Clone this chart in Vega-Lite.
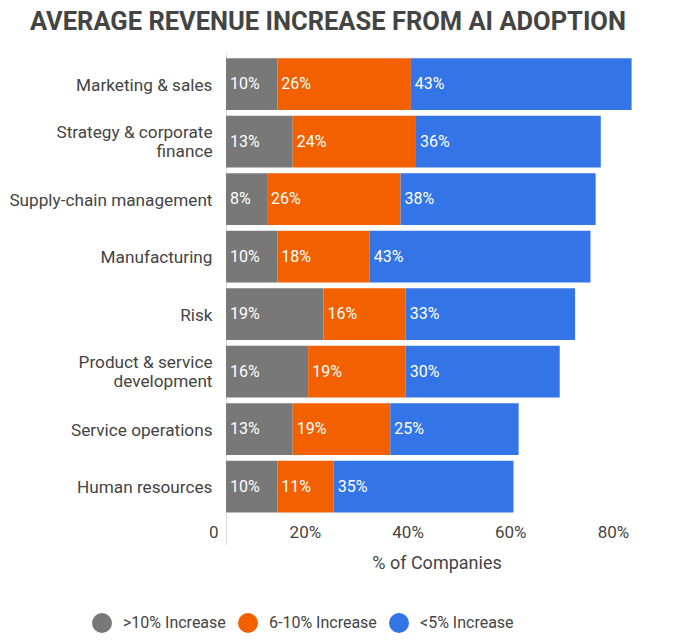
{
  "$schema": "https://vega.github.io/schema/vega-lite/v6.json",
  "width": 421,
  "height": 492,
  "padding": {"left": 8, "top": 9, "right": 5, "bottom": 5},
  "background": "white",
  "title": {
    "text": "AVERAGE REVENUE INCREASE FROM AI ADOPTION",
    "font": "Roboto",
    "fontSize": 25.5,
    "fontWeight": "bold",
    "color": "#444444",
    "anchor": "middle",
    "frame": "bounds",
    "offset": 18
  },
  "config": {
    "view": {"stroke": null},
    "font": "Roboto"
  },
  "data": {
    "values": [
      {"cat": "Marketing & sales", "series": ">10% Increase", "ord": 1, "v": 10},
      {"cat": "Marketing & sales", "series": "6-10% Increase", "ord": 2, "v": 26},
      {"cat": "Marketing & sales", "series": "<5% Increase", "ord": 3, "v": 43},
      {"cat": "Strategy & corporate finance", "series": ">10% Increase", "ord": 1, "v": 13},
      {"cat": "Strategy & corporate finance", "series": "6-10% Increase", "ord": 2, "v": 24},
      {"cat": "Strategy & corporate finance", "series": "<5% Increase", "ord": 3, "v": 36},
      {"cat": "Supply-chain management", "series": ">10% Increase", "ord": 1, "v": 8},
      {"cat": "Supply-chain management", "series": "6-10% Increase", "ord": 2, "v": 26},
      {"cat": "Supply-chain management", "series": "<5% Increase", "ord": 3, "v": 38},
      {"cat": "Manufacturing", "series": ">10% Increase", "ord": 1, "v": 10},
      {"cat": "Manufacturing", "series": "6-10% Increase", "ord": 2, "v": 18},
      {"cat": "Manufacturing", "series": "<5% Increase", "ord": 3, "v": 43},
      {"cat": "Risk", "series": ">10% Increase", "ord": 1, "v": 19},
      {"cat": "Risk", "series": "6-10% Increase", "ord": 2, "v": 16},
      {"cat": "Risk", "series": "<5% Increase", "ord": 3, "v": 33},
      {"cat": "Product & service development", "series": ">10% Increase", "ord": 1, "v": 16},
      {"cat": "Product & service development", "series": "6-10% Increase", "ord": 2, "v": 19},
      {"cat": "Product & service development", "series": "<5% Increase", "ord": 3, "v": 30},
      {"cat": "Service operations", "series": ">10% Increase", "ord": 1, "v": 13},
      {"cat": "Service operations", "series": "6-10% Increase", "ord": 2, "v": 19},
      {"cat": "Service operations", "series": "<5% Increase", "ord": 3, "v": 25},
      {"cat": "Human resources", "series": ">10% Increase", "ord": 1, "v": 10},
      {"cat": "Human resources", "series": "6-10% Increase", "ord": 2, "v": 11},
      {"cat": "Human resources", "series": "<5% Increase", "ord": 3, "v": 35}
    ]
  },
  "transform": [
    {"stack": "v", "groupby": ["cat"], "sort": [{"field": "ord"}], "as": ["v0", "v1"]},
    {"calculate": "datum.v + '%'", "as": "lbl"}
  ],
  "encoding": {
    "y": {
      "field": "cat",
      "type": "nominal",
      "sort": ["Marketing & sales", "Strategy & corporate finance", "Supply-chain management", "Manufacturing", "Risk", "Product & service development", "Service operations", "Human resources"],
      "scale": {"paddingInner": 0.1, "paddingOuter": 0.33, "align": 0.14},
      "axis": {
        "title": null,
        "ticks": false,
        "grid": false,
        "domain": true,
        "domainColor": "#dddddd",
        "labelFont": "Roboto",
        "labelFontSize": 17.2,
        "labelColor": "#444444",
        "labelPadding": 14,
        "labelLineHeight": 19,
        "labelLimit": 300,
        "labelOffset": {
          "condition": {"test": "datum.value == 'Strategy & corporate finance' || datum.value == 'Product & service development'", "value": -9},
          "value": 1.5
        },
        "labelExpr": "datum.value == 'Strategy & corporate finance' ? ['Strategy & corporate', 'finance'] : datum.value == 'Product & service development' ? ['Product & service', 'development'] : datum.value"
      }
    }
  },
  "layer": [
    {
      "mark": {"type": "bar"},
      "encoding": {
        "x": {
          "field": "v0",
          "type": "quantitative",
          "scale": {"domain": [0, 82], "nice": false},
          "axis": {
            "title": "% of Companies",
            "titleFont": "Roboto",
            "titleFontSize": 18,
            "titleFontWeight": "normal",
            "titleColor": "#444444",
            "titlePadding": 14,
            "values": [0, 20, 40, 60, 80],
            "labelExpr": "datum.value == 0 ? '0' : datum.value + '%'",
            "labelFont": "Roboto",
            "labelFontSize": 17,
            "labelColor": "#444444",
            "labelAlign": "right",
            "labelOffset": -8,
            "labelPadding": 3,
            "offset": -24,
            "domain": false,
            "ticks": false,
            "grid": false
          }
        },
        "x2": {"field": "v1"},
        "color": {
          "field": "series",
          "type": "nominal",
          "sort": [">10% Increase", "6-10% Increase", "<5% Increase"],
          "scale": {
            "domain": [">10% Increase", "6-10% Increase", "<5% Increase"],
            "range": ["#787878", "#f26000", "#3375e7"]
          },
          "legend": {
            "title": null,
            "orient": "none",
            "legendX": -134,
            "legendY": 560,
            "direction": "horizontal",
            "symbolType": "circle",
            "symbolSize": 400,
            "symbolStrokeWidth": 0,
            "labelFont": "Roboto",
            "labelFontSize": 16,
            "labelColor": "#444444",
            "labelOffset": 11,
            "columnPadding": 12
          }
        }
      }
    },
    {
      "mark": {"type": "text", "align": "left", "baseline": "middle", "dx": 4, "color": "white", "font": "Roboto", "fontSize": 16, "fontWeight": "normal"},
      "encoding": {
        "x": {"field": "v0", "type": "quantitative"},
        "text": {"field": "lbl", "type": "nominal"}
      }
    }
  ]
}
